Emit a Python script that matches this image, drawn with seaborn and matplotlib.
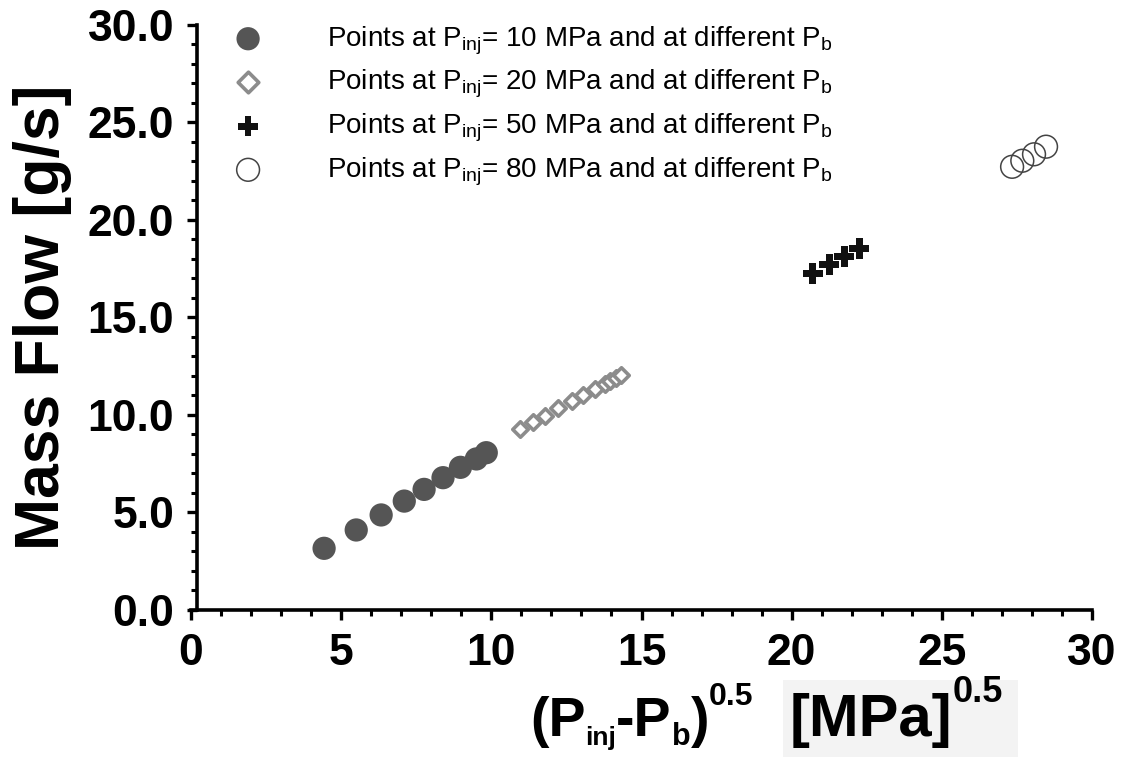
import matplotlib
matplotlib.use("Agg")
import matplotlib.pyplot as plt
from matplotlib.patches import Rectangle
from matplotlib.ticker import MultipleLocator, FormatStrFormatter
import pandas as pd
import seaborn as sns

# square root of the pressure drop [MPa^0.5] and mass flow [g/s]
# for each injection pressure, at different back pressures
x_p10 = [4.43, 5.50, 6.33, 7.10, 7.76, 8.39, 8.97, 9.50, 9.83]
y_p10 = [3.16, 4.10, 4.87, 5.58, 6.18, 6.78, 7.31, 7.74, 8.06]
x_p20 = [10.96, 11.38, 11.79, 12.23, 12.67, 13.06, 13.44, 13.78, 13.96, 14.16, 14.33]
y_p20 = [9.25, 9.62, 9.96, 10.33, 10.69, 11.01, 11.31, 11.58, 11.74, 11.90, 12.04]
x_p50 = [20.70, 21.25, 21.75, 22.25]
y_p50 = [17.25, 17.70, 18.11, 18.53]
x_p80 = [27.34, 27.68, 28.07, 28.47]
y_p80 = [22.71, 23.02, 23.35, 23.74]

inj_pressures = [10, 20, 50, 80]
x_ticks = [0, 5, 10, 15, 20, 25, 30]
y_ticks = [0, 5, 10, 15, 20, 25, 30]

sns.set_theme(style="ticks")
plt.rcParams["font.family"] = ["Liberation Sans", "DejaVu Sans"]
plt.rcParams["mathtext.fontset"] = "custom"
plt.rcParams["mathtext.rm"] = "Liberation Sans"
plt.rcParams["mathtext.bf"] = "Liberation Sans:bold"
plt.rcParams["mathtext.it"] = "Liberation Sans:italic"
for key in ("text.color", "axes.labelcolor", "xtick.color", "ytick.color"):
    plt.rcParams[key] = "black"

fig = plt.figure(figsize=(11.42, 7.57), dpi=100)
ax = fig.add_axes([0.1673, 0.1942, 0.9562 - 0.1673, 0.9676 - 0.1942])


def label_for(p):
    return (r"Points at P$_{\mathregular{inj}}$= " + f"{p}"
            + r" MPa and at different P$_{\mathregular{b}}$")


series = [
    (x_p10, y_p10, dict(marker="o", s=280, color="#555555", edgecolor="none")),
    (x_p20, y_p20, dict(marker="D", s=62, facecolor="white", edgecolor="#8c8c8c", linewidth=2.6)),
    (x_p50, y_p50, dict(marker="P", s=215, color="#111111", edgecolor="none")),
    (x_p80, y_p80, dict(marker="o", s=270, facecolor="none", edgecolor="#444444", linewidth=1.1)),
]
for p, (xs, ys, kw) in zip(inj_pressures, series):
    df = pd.DataFrame({"x": xs, "y": ys})
    sns.scatterplot(data=df, x="x", y="y", ax=ax, label=label_for(p), zorder=3, **kw)

ax.set_xlim(0, 30)
ax.set_ylim(0, 30)
ax.set_xticks(x_ticks)
ax.set_yticks(y_ticks)
ax.yaxis.set_major_formatter(FormatStrFormatter("%.1f"))
ax.xaxis.set_minor_locator(MultipleLocator(1))
ax.yaxis.set_minor_locator(MultipleLocator(1))

for side in ("top", "right"):
    ax.spines[side].set_visible(False)
for side in ("left", "bottom"):
    ax.spines[side].set_linewidth(2.6)
    ax.spines[side].set_color("black")
    ax.spines[side].set_capstyle("projecting")
ax.spines["left"].set_position(("data", 0.2))

ax.tick_params(which="major", direction="out", length=7.5, width=2.4, color="black",
               labelsize=32, pad=9)
ax.tick_params(which="minor", direction="out", length=4.5, width=2.2, color="black")
for lab in ax.get_xticklabels() + ax.get_yticklabels():
    lab.set_fontweight("bold")

ax.set_xlabel("")
ax.set_ylabel("Mass Flow [g/s]", fontsize=45, fontweight="bold")
ax.yaxis.set_label_coords(-0.132, 0.5)

leg = ax.legend(loc="upper left", bbox_to_anchor=(0.199, 0.968),
                bbox_transform=fig.transFigure, frameon=False, fontsize=20,
                handlelength=1.5, handletextpad=2.1, labelspacing=0.41,
                borderpad=0, borderaxespad=0)
leg.legend_handles[1].set_sizes([110])

# axis title below the x axis, with the unit on its own light panel
fig.patches.append(Rectangle((783 / 1142, 0), (1018 - 783) / 1142, 77 / 757,
                             transform=fig.transFigure, facecolor="#f3f3f3",
                             edgecolor="none", zorder=0))

renderer = fig.canvas.get_renderer()


def run_of_text(x0, y0, pieces):
    """Lay out bold text pieces left to right; each piece has its own size and lift."""
    x = x0
    for txt, size, lift in pieces:
        t = fig.text(x, y0 + lift / 757, txt, fontsize=size, fontweight="bold",
                     ha="left", va="baseline")
        x = t.get_window_extent(renderer).x1 / fig.bbox.width


base_y = 1 - 736 / 757
run_of_text(530 / 1142, base_y, [
    ("(P", 40, 0), ("inj", 19, -9), ("-P", 40, 0), ("b", 22, -9),
    (")", 40, 0), ("0.5", 23, 31),
])
run_of_text(790 / 1142, base_y, [
    ("[MPa]", 43, 0), ("0.5", 26, 34),
])

fig.savefig("out.png", dpi=100, facecolor="white")
